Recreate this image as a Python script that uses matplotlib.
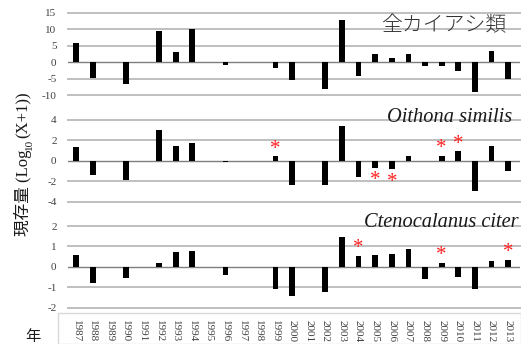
import matplotlib
matplotlib.use("Agg")
import matplotlib.pyplot as plt
from matplotlib.patches import Rectangle
import numpy as np

years = [str(y) for y in range(1987, 2014)]

copepods_all = [6.0, -4.9, 0, -6.6, 0, 9.5, 3.0, 10.0, 0, -1.0, 0, 0, -1.8,
                -5.5, 0, -8.3, 13.0, -4.1, 2.6, 1.4, 2.4, -1.2, -1.3, -2.7,
                -9.2, 3.4, -5.1]
oithona = [1.3, -1.4, 0, -1.9, 0, 3.0, 1.4, 1.7, 0, -0.1, 0, 0, 0.42,
           -2.4, 0, -2.4, 3.4, -1.6, -0.7, -0.85, 0.5, 0, 0.45, 0.9,
           -3.0, 1.45, -1.0]
ctenocalanus = [0.57, -0.77, 0, -0.54, 0, 0.21, 0.74, 0.8, 0, -0.41, 0, 0, -1.08,
                -1.41, 0, -1.21, 1.48, 0.54, 0.57, 0.62, 0.89, -0.59, 0.21, -0.51,
                -1.08, 0.28, 0.33]

oithona_marked = ['1999', '2005', '2006', '2009', '2010']
ctenocalanus_marked = ['2004', '2009', '2013']

panels = [
    (copepods_all, (-10, 15), [15, 10, 5, 0, -5, -10], '全カイアシ類', False, []),
    (oithona, (-4, 4), [4, 2, 0, -2, -4], 'Oithona similis', True, oithona_marked),
    (ctenocalanus, (-2, 2), [2, 1, 0, -1, -2], 'Ctenocalanus citer', True, ctenocalanus_marked),
]

W, H = 521, 344
fig = plt.figure(figsize=(W / 100, H / 100), dpi=100)

left_px, right_px = 67.7, 520
step = 16.62
tops = [13, 119.7, 226]
bottoms = [95, 201.7, 307.7]
title_pos = [(0.971, 0.85), (0.982, 1.03), (0.996, 1.04)]

serif = ['Liberation Serif', 'DejaVu Serif']
grid_c = '#bfbfbf'
tick_c = '#404040'

x = np.arange(len(years))
axes = []
for (vals, ylim, ticks, title, italic, marked), t, b, tp in zip(panels, tops, bottoms, title_pos):
    ax = fig.add_axes([left_px / W, 1 - b / H, (right_px - left_px) / W, (b - t) / H])
    axes.append(ax)
    ax.set_xlim(-0.5, (right_px - left_px) / step - 0.5)
    ax.set_ylim(*ylim)
    for tv in ticks:
        if tv == 0:
            continue
        ax.axhline(tv, color=grid_c, lw=1.4, zorder=0, clip_on=False)
    ax.axhline(0, color='#7f7f7f', lw=1.0, zorder=1)
    ax.bar(x, vals, width=0.35, color='black', zorder=2)
    ax.set_yticks(ticks)
    ax.set_yticklabels([str(v) for v in ticks], fontfamily=serif, fontsize=8,
                       color=tick_c)
    ax.tick_params(axis='y', length=0, pad=8)
    ax.tick_params(axis='x', length=0)
    ax.set_xticks([])
    for s in ax.spines.values():
        s.set_visible(False)
    ax.patch.set_alpha(0)
    if italic:
        ax.text(tp[0], tp[1], title, transform=ax.transAxes, ha='right', va='center',
                fontfamily=serif, fontstyle='italic', fontsize=14.7, color='#1a1a1a')
    else:
        ax.text(tp[0], tp[1], title, transform=ax.transAxes, ha='right', va='center',
                fontfamily=['Noto Sans CJK JP'], fontweight='light', fontsize=15,
                color='#333333')
    span = ylim[1] - ylim[0]
    for yr in marked:
        i = years.index(yr)
        v = vals[i]
        off = 0.09 * span if v >= 0 else -0.16 * span
        ax.text(i, v + off, '*', ha='center', va='center', color='#ff2020',
                fontfamily=serif, fontsize=15)

# year labels along the bottom
ax3 = axes[-1]
ax3.set_xticks(x)
ax3.set_xticklabels(years, rotation=-90, fontfamily=serif, fontsize=8,
                    color=tick_c, va='top', ha='center')
ax3.tick_params(axis='x', length=0, pad=8.5)

fig.patches.append(Rectangle((58 / W, 0), 1 - 58 / W, 1 - 313 / H,
                             transform=fig.transFigure, fill=False,
                             edgecolor='#d9d9d9', lw=1.0))

# vertical axis title, built in pieces so the subscript sits below the baseline
label_font = ['Liberation Serif', 'Noto Sans CJK JP']
base_x = 28 / W
y_cur = 1 - 236 / H
fig.canvas.draw()
renderer = fig.canvas.get_renderer()
pieces = [('現存量 (Log', 12, 0.0), ('10', 8, 4 / W), ('(X+1))', 12, 0.0)]
for txt, fs, dx in pieces:
    t = fig.text(base_x + dx, y_cur, txt, rotation=90, rotation_mode='anchor',
                 ha='left', va='baseline', fontfamily=label_font, fontsize=fs,
                 color='#1a1a1a')
    bb = t.get_window_extent(renderer=renderer)
    y_cur += bb.height / (H)

fig.text(33 / W, 1 - 336 / H, '年', ha='center', va='center',
         fontfamily=['Noto Sans CJK JP'], fontsize=11, color='#1a1a1a')

fig.savefig('out.png', dpi=100)
